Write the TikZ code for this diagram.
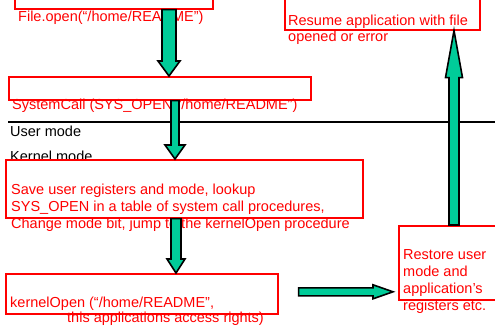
\documentclass[tikz,border=0pt]{standalone}
\usepackage{fontspec}
\setmainfont{Liberation Sans}
\usepackage{xcolor}
\usepackage{tikz}
\usetikzlibrary{calc,positioning}

\definecolor{callgreen}{RGB}{0,204,153}

\tikzset{
    redbox/.style={
        draw=red,
        line width=1.6pt,
        inner sep=0pt,
        anchor=north west
    },
    redtext/.style={
        text=red,
        inner sep=0pt,
        anchor=base west,
        align=left,
        font=\fontsize{14.5}{17}\selectfont
    },
    modetext/.style={
        inner sep=0pt,
        anchor=base west,
        font=\fontsize{14.5}{17}\selectfont
    },
    fat/.style={
        fill=callgreen,
        draw=black,
        line width=1.6pt,
        line join=miter
    }
}

% block arrow: shaft half width, head half width, head length, from, to
\newcommand{\fatarrow}[5]{%
    \coordinate (fh) at ($(#5)!#3!(#4)$);
    \draw[fat] ($(#4)!#1!90:(#5)$) -- ($(fh)!#1!90:(#5)$) -- ($(fh)!#2!90:(#5)$)
        -- (#5) -- ($(fh)!#2!-90:(#5)$) -- ($(fh)!#1!-90:(#5)$)
        -- ($(#4)!#1!-90:(#5)$) -- cycle;
}

\begin{document}
\begin{tikzpicture}[x=1pt, y=-1pt]
    \useasboundingbox (0,0) rectangle (495,329);
    \clip (0,0) rectangle (495,329);

    % user / kernel boundary
    \draw[line width=1.4pt] (8,122) -- (495,122);
    \node[modetext] (user) at (10,136) {User mode};
    \node[modetext] (kernel) at (10,161) {Kernel mode};

    % the boxes
    \node[redbox, minimum width=198, minimum height=28] (open) at (14,-20) {};
    \node[redbox, minimum width=302, minimum height=23] (call) at (8,76) {};
    \node[redbox, fill=white, minimum width=357, minimum height=58] (save) at (5,159) {};
    \node[redbox, minimum width=272, minimum height=40] (kopen) at (5,273) {};
    \node[redbox, minimum width=112, minimum height=74] (restore) at (398,225) {};
    \node[redbox, minimum width=195, minimum height=49] (resume) at (284,-20) {};

    % the texts (multi-line ones sit on their last line)
    \node[redtext] (opentxt) at (18,22) {File.open(“/home/README”)};
    \node[redtext] (calltxt) at (12,109) {SystemCall (SYS\_OPEN “/home/README”)};
    \node[redtext] (savetxt) at (11,228) {Save user registers and mode, lookup\\
        SYS\_OPEN in a table of system call procedures,\\
        Change mode bit, jump to the kernelOpen procedure};
    \node[redtext] (kopentxt) at (10,307) {kernelOpen (“/home/README”,};
    \node[redtext] (rightstxt) at (67,322) {this applications access rights)};
    \node[redtext] (restoretxt) at (403,310) {Restore user\\mode and\\application’s\\registers etc.};
    \node[redtext] (resumetxt) at (288,42) {Resume application with file\\opened or error};

    % the arrows
    \coordinate (a1s) at (169,0 |- open.south);
    \coordinate (a1e) at (169,0 |- call.north);
    \fatarrow{7pt}{11pt}{15pt}{a1s}{a1e}

    \coordinate (a2s) at (175,0 |- call.south);
    \coordinate (a2e) at (175,0 |- save.north);
    \fatarrow{4pt}{10pt}{14pt}{a2s}{a2e}

    \coordinate (a3s) at (176,0 |- save.south);
    \coordinate (a3e) at (176,0 |- kopen.north);
    \fatarrow{5pt}{9pt}{14pt}{a3s}{a3e}

    \coordinate (a4s) at ($(kopen.east)+(20,-2)$);
    \coordinate (a4e) at ($(restore.west |- a4s)+(-5,0)$);
    \fatarrow{4pt}{7pt}{20pt}{a4s}{a4e}

    \coordinate (a5s) at (454,0 |- restore.north);
    \coordinate (a5e) at (454,0 |- resume.south);
    \fatarrow{5pt}{8.5pt}{47pt}{a5s}{a5e}
\end{tikzpicture}
\end{document}
